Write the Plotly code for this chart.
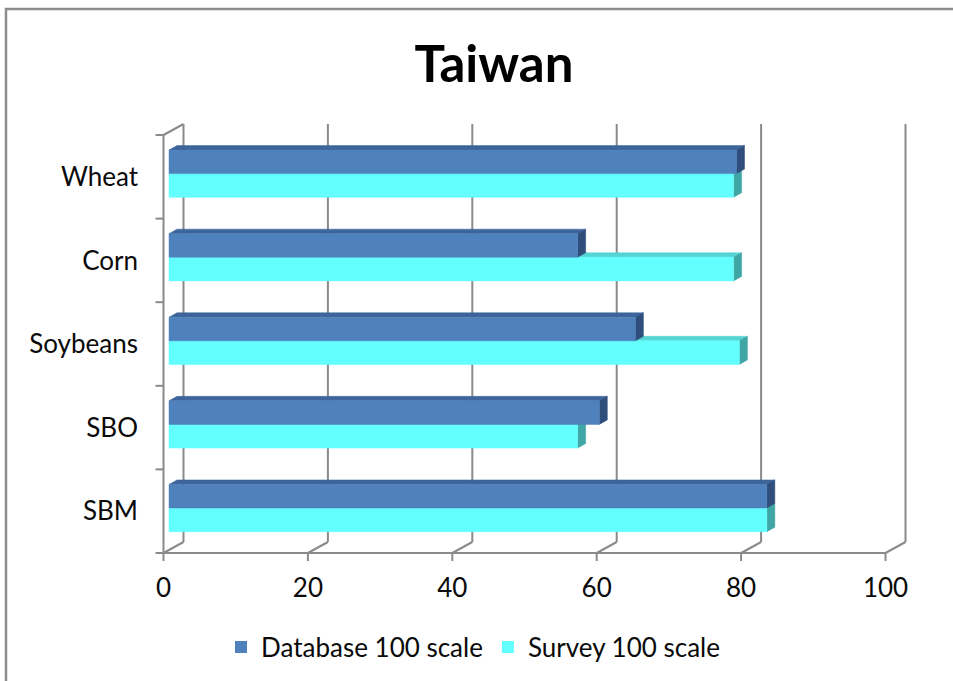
import plotly.graph_objects as go

# ---------------- data ----------------
categories = ["SBM", "SBO", "Soybeans", "Corn", "Wheat"]   # bottom -> top
database = [82.8, 59.6, 64.6, 56.6, 78.6]
survey = [82.8, 56.6, 79.0, 78.2, 78.2]
x_ticks = [0, 20, 40, 60, 80, 100]
series_names = ["Database 100 scale", "Survey 100 scale"]

# ---------------- geometry (pixels -> data units) ----------------
W, H = 953, 681
PLOT_L, PLOT_R, PLOT_T, PLOT_B = 150, 915, 115, 570
X0_PX = 163.5            # pixel of value 0 on front plane
PX_X = 7.22              # pixels per value unit
FLOOR_PX = 553           # pixel of front floor line
PX_Y = 83.6              # pixels per category band

xr = [(PLOT_L - X0_PX) / PX_X, (PLOT_R - X0_PX) / PX_X]
yr = [-0.5 - (PLOT_B - FLOOR_PX) / PX_Y, -0.5 + (FLOOR_PX - PLOT_T) / PX_Y]

DEPTH_X = 20 / PX_X      # full depth of the 3D box
DEPTH_Y = 11 / PX_Y
BAR_DX = 8 / PX_X        # depth of a bar
BAR_DY = 4.5 / PX_Y
BAR_X0 = 5.5 / PX_X      # front-face start of bars
DB_TOP, MID, SV_BOT = 0.32, 0.038, -0.245

AX = "#8a8a8a"
DB_FRONT, DB_TOP_C, DB_SIDE = "#4F81BD", "#3D659B", "#2F4E7B"
SV_FRONT, SV_TOP_C, SV_SIDE = "#63FFFF", "#55D4D4", "#3FA5A5"


def faces(values, ytop, ybot):
    fx, fy, tx, ty, sx, sy = [], [], [], [], [], []
    for i, v in enumerate(values):
        x0, x1 = BAR_X0, BAR_X0 + v
        yt, yb = i + ytop, i + ybot
        fx += [x0, x1, x1, x0, x0, None]
        fy += [yb, yb, yt, yt, yb, None]
        tx += [x0, x1, x1 + BAR_DX, x0 + BAR_DX, x0, None]
        ty += [yt, yt, yt + BAR_DY, yt + BAR_DY, yt, None]
        sx += [x1, x1 + BAR_DX, x1 + BAR_DX, x1, x1, None]
        sy += [yb, yb + BAR_DY, yt + BAR_DY, yt, yb, None]
    return (fx, fy), (tx, ty), (sx, sy)


def poly(xy, color):
    return go.Scatter(x=xy[0], y=xy[1], mode="lines", fill="toself",
                      fillcolor=color, line=dict(width=0.5, color=color),
                      hoverinfo="skip", showlegend=False)


fig = go.Figure()
sv_f, sv_t, sv_s = faces(survey, MID, SV_BOT)
db_f, db_t, db_s = faces(database, DB_TOP, MID)
fig.add_trace(poly(sv_t, SV_TOP_C))
fig.add_trace(poly(sv_s, SV_SIDE))
fig.add_trace(poly(sv_f, SV_FRONT))
fig.add_trace(poly(db_t, DB_TOP_C))
fig.add_trace(poly(db_s, DB_SIDE))
fig.add_trace(poly(db_f, DB_FRONT))

# legend entries
for name, col in zip(series_names, [DB_FRONT, SV_FRONT]):
    fig.add_trace(go.Scatter(x=[None], y=[None], mode="markers", name=name,
                             marker=dict(symbol="square", size=12, color=col)))

# ---------------- axes / 3D box lines ----------------
shapes = []
def ln(x0, y0, x1, y1):
    shapes.append(dict(type="line", xref="x", yref="y", x0=x0, y0=y0, x1=x1, y1=y1,
                       line=dict(color=AX, width=2), layer="below"))

n = len(categories)
ybot, ytop = -0.5, n - 0.5
# back wall gridlines + floor diagonals + x ticks
for v in x_ticks:
    ln(v + DEPTH_X, ybot + DEPTH_Y, v + DEPTH_X, ytop + DEPTH_Y)
    ln(v, ybot, v + DEPTH_X, ybot + DEPTH_Y)
    ln(v, ybot, v, ybot - 8 / PX_Y)
# front floor line
ln(0, ybot, x_ticks[-1], ybot)
# front vertical axis + ticks
ln(0, ybot, 0, ytop)
for k in range(n + 1):
    ln(0, k - 0.5, -8 / PX_X, k - 0.5)
# top-left diagonal
ln(0, ytop, DEPTH_X, ytop + DEPTH_Y)

# outer border
def px2paper_x(p):
    return (p - PLOT_L) / (PLOT_R - PLOT_L)
def px2paper_y(p):
    return (PLOT_B - p) / (PLOT_B - PLOT_T)
shapes.append(dict(type="rect", xref="paper", yref="paper",
                   x0=px2paper_x(6), x1=px2paper_x(W + 20),
                   y0=px2paper_y(H + 20), y1=px2paper_y(9),
                   line=dict(color="#8c8c8c", width=2.5), fillcolor="rgba(0,0,0,0)"))

FONT = "Lato"
fig.update_layout(
    width=W, height=H,
    margin=dict(l=PLOT_L, r=W - PLOT_R, t=PLOT_T, b=H - PLOT_B, autoexpand=False),
    paper_bgcolor="white", plot_bgcolor="white",
    font=dict(family=FONT, size=26, color="#0a0a0a"),
    title=dict(text="Taiwan", xref="container", yref="container",
               x=494 / W, y=1 - 64 / H, xanchor="center", yanchor="middle",
               font=dict(family=FONT, size=51, color="black", weight="bold")),
    xaxis=dict(range=xr, tickvals=x_ticks, ticktext=[str(t) for t in x_ticks],
               showgrid=False, zeroline=False, showline=False, ticks="",
               ticklabelstandoff=0, fixedrange=True),
    yaxis=dict(range=yr, tickvals=list(range(n)), ticktext=categories,
               showgrid=False, zeroline=False, showline=False, ticks="",
               ticklabelstandoff=11, fixedrange=True),
    showlegend=True,
    legend=dict(orientation="h", x=px2paper_x(221), xanchor="left",
                y=px2paper_y(647), yanchor="middle", itemwidth=30,
                font=dict(family=FONT, size=26, color="#0a0a0a"),
                itemclick=False, bgcolor="rgba(0,0,0,0)"),
    shapes=shapes,
)

fig.write_html("out.html", config={"displayModeBar": False},
               post_script="document.body.style.margin='0';document.body.style.overflow='hidden';")
